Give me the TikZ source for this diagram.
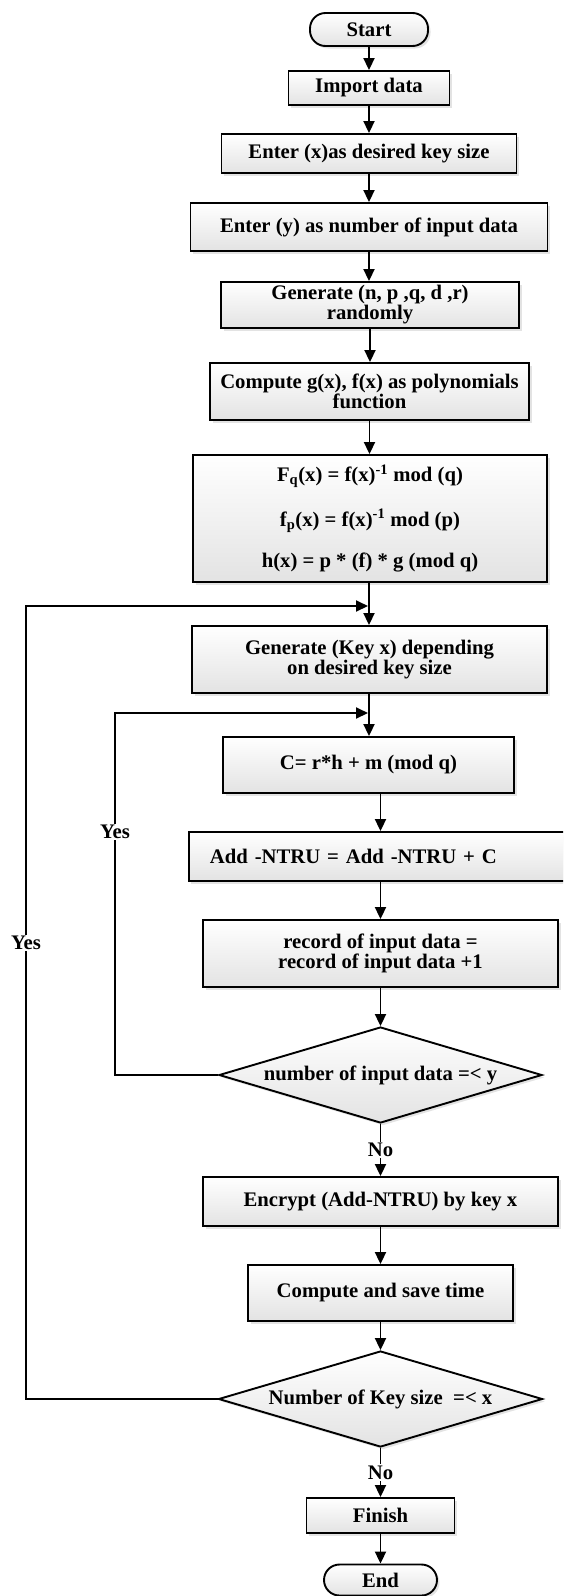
\documentclass[tikz,border=0pt]{standalone}
\usepackage{fontspec}
\setmainfont{Liberation Serif}
\usetikzlibrary{shapes.geometric,arrows.meta,shadows}
\newcommand\chartfont{\fontsize{20.7}{20}\selectfont\bfseries}
\begin{document}
\begin{tikzpicture}[x=1pt,y=-1pt,
  every node/.style={font=\chartfont},
  block/.style={draw, line width=1.9pt, rectangle, inner sep=0pt, align=center,
    top color=white, bottom color=black!11,
    drop shadow={shadow xshift=2.5pt, shadow yshift=-2.5pt, fill=black!22}},
  term/.style={block, rounded corners=15.5pt},
  decision/.style={block, diamond, aspect=3.37, inner sep=0pt},
  arr/.style={line width=1.9pt, -{Triangle[length=12pt,width=11pt]}},
  lbl/.style={fill=white, inner sep=1.5pt}]
\useasboundingbox (0,0) rectangle (563,1596);
\clip (0,0) rectangle (563,1596);

% main column, upper part
\node[term, minimum width=118pt, minimum height=33pt] (start) at (369,29.5) {Start};
\node[block, minimum width=161pt, minimum height=34pt] (imp) at (369,88) {Import data};
\node[block, minimum width=295pt, minimum height=39pt] (ex) at (369,153.5) {Enter (x)as desired key size};
\node[block, minimum width=357pt, minimum height=48pt] (ey) at (369,227) {Enter (y) as number of input data};
\node[block, minimum width=298pt, minimum height=46pt] (gen) at (370,305) {Generate (n, p ,q, d ,r)\\randomly};
\node[block, minimum width=319pt, minimum height=57pt] (cmp) at (369.5,391.5) {Compute g(x), f(x) as polynomials\\function};
\node[block, minimum width=354pt, minimum height=127pt] (fb) at (370,518.5)
  {F\textsubscript{q}(x) = f(x)\textsuperscript{-1} mod (q)\\[20pt]
   f\textsubscript{p}(x) = f(x)\textsuperscript{-1} mod (p)\\[20pt]
   h(x) = p * (f) * g (mod q)};
\node[block, minimum width=355pt, minimum height=67pt] (gk) at (369.5,659.5) {Generate (Key x) depending\\on desired key size};
\node[block, minimum width=291pt, minimum height=56pt] (cc) at (368.5,765) {C= r*h + m (mod q)};

% main column, lower part
\node[block, anchor=west, text width=370pt, inner xsep=21pt, align=left, minimum height=49pt] (add) at (188,856.5) {Add -NTRU = Add -NTRU + C};
\node[block, minimum width=355pt, minimum height=67pt] (rec) at (380.5,953.5) {record of input data =\\record of input data +1};
\node[decision, minimum width=323pt, minimum height=96pt] (d1) at (380.5,1075) {number of input data =< y};
\node[block, minimum width=355pt, minimum height=49pt] (enc) at (380.5,1201.5) {Encrypt (Add-NTRU) by key x};
\node[block, minimum width=265pt, minimum height=56pt] (ct) at (380.5,1293) {Compute and save time};
\node[decision, minimum width=324pt, minimum height=96pt] (d2) at (380.5,1399) {Number of Key size\ \ =< x};
\node[block, minimum width=148pt, minimum height=35pt] (fin) at (380.5,1515.5) {Finish};
\node[term, minimum width=113pt, minimum height=31pt] (endn) at (380.5,1580) {End};

% loop entry points and loop columns
\coordinate (j1) at (369,606);
\coordinate (j2) at (369,713);
\coordinate (inx) at (115,832);
\coordinate (outx) at (26,943);

% straight flow
\draw[arr] (start) -- (imp);
\draw[arr] (imp) -- (ex);
\draw[arr] (ex) -- (ey);
\draw[arr] (ey.south) -- (ey.south |- gen.north);
\draw[arr] (gen.south) -- (gen.south |- cmp.north);
\draw[arr] (cmp.south) -- (cmp.south |- fb.north);
\draw[arr] (fb.south -| j1) -- (gk.north -| j1);
\draw[arr] (gk.south -| j2) -- (cc.north -| j2);
\draw[arr] (cc.south -| rec) -- (add.north -| rec);
\draw[arr] (add.south -| rec) -- (rec.north);
\draw[arr] (rec) -- (d1);
\draw[arr] (d1.south) -- node[lbl] {No} (enc.north);
\draw[arr] (enc) -- (ct);
\draw[arr] (ct) -- (d2);
\draw[arr] (d2.south) -- node[lbl] {No} (fin.north);
\draw[arr] (fin) -- (endn);

% loops back
\draw[arr] (d1.west) -- (d1.west -| inx) |- ([xshift=-1pt]j2);
\draw[arr] (d2.west) -- (d2.west -| outx) |- ([xshift=-1pt]j1);
\node[lbl] (yin) at (inx) {Yes};
\node[lbl] (yout) at (outx) {Yes};
\end{tikzpicture}
\end{document}
